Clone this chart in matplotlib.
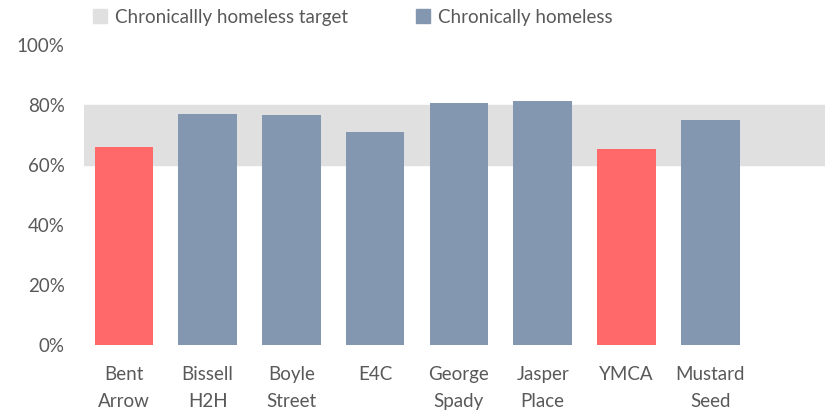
import matplotlib
matplotlib.use("Agg")
from matplotlib import pyplot as plt
from matplotlib.patches import Patch

# data
programs = ["Bent\nArrow", "Bissell\nH2H", "Boyle\nStreet", "E4C",
            "George\nSpady", "Jasper\nPlace", "YMCA", "Mustard\nSeed"]
chronic_pct = [65.9, 76.9, 76.6, 71.0, 80.7, 81.3, 65.4, 75.0]
target_low = 60
target_high = 80
below_target = ["Bent\nArrow", "YMCA"]

blue = "#8497B0"
red = "#FF6969"
band = "#E0E0E0"
text_col = "#595959"

plt.rcParams['font.family'] = ['Lato', 'DejaVu Sans']

fig = plt.figure(figsize=(8.25, 4.13), dpi=100)
ax = fig.add_axes([0.1018, 0.1646, 0.8982, 0.7264])

# target band
ax.axhspan(target_low, target_high, color=band, zorder=0)

colors = [red if p in below_target else blue for p in programs]
x = range(len(programs))
ax.bar(x, chronic_pct, width=0.7, color=colors, zorder=2)

ax.set_ylim(0, 100)
ax.set_xlim(-0.476, 8.37)
ax.set_yticks([0, 20, 40, 60, 80, 100])
ax.set_yticklabels([f"{v}%" for v in [0, 20, 40, 60, 80, 100]])
ax.set_xticks(list(x))
ax.set_xticklabels(programs, linespacing=1.7)
ax.tick_params(axis="both", length=0, colors=text_col, labelsize=13.5)
ax.tick_params(axis="y", pad=14)
ax.tick_params(axis="x", pad=15)
for s in ax.spines.values():
    s.set_visible(False)

handles = [Patch(color=band, label="Chronicallly homeless target"),
           Patch(color=blue, label="Chronically homeless")]
fig.legend(handles=handles, loc="upper left", bbox_to_anchor=(0.092, 1.02),
           ncol=2, frameon=False, handlelength=0.75, handleheight=0.75,
           handletextpad=0.45, columnspacing=3.6, fontsize=13.5,
           labelcolor=text_col)

fig.savefig("out.png", dpi=100)
